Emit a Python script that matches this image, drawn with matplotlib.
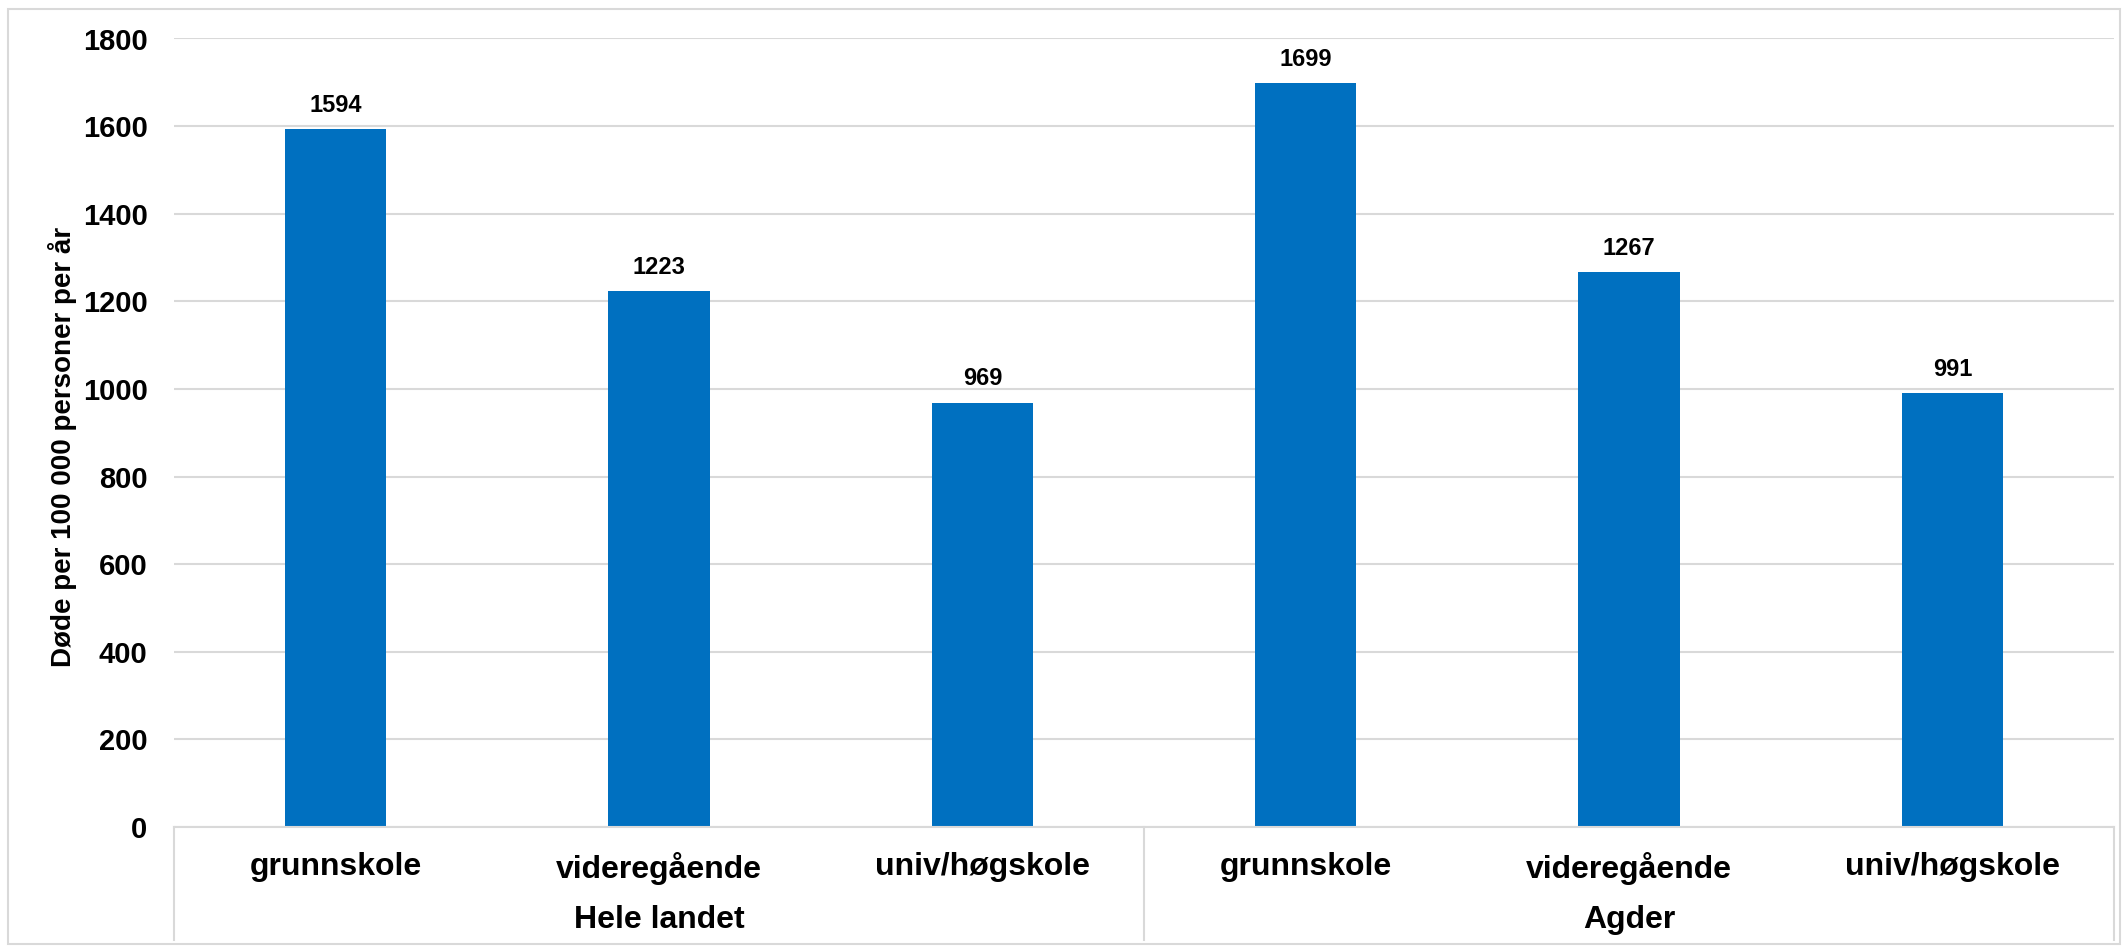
import matplotlib
matplotlib.use("Agg")
import matplotlib.pyplot as plt
from matplotlib.lines import Line2D
from matplotlib.patches import Rectangle

# data
groups = ["Hele landet", "Agder"]
levels = ["grunnskole", "videregående", "univ/høgskole"]
values_hele = [1594, 1223, 969]
values_agder = [1699, 1267, 991]
y_ticks = [0, 200, 400, 600, 800, 1000, 1200, 1400, 1600, 1800]
y_label = "Døde per 100 000 personer per år"

BAR = "#0070C0"
GRID = "#D9D9D9"

plt.rcParams["font.family"] = ["Liberation Sans", "DejaVu Sans"]
plt.rcParams["font.weight"] = "bold"

W, H = 2125, 947
fig = plt.figure(figsize=(W / 100, H / 100), dpi=100)
ax = fig.add_axes([174 / W, 1 - 827 / H, (2114 - 174) / W, (827 - 38.5) / H])

values = values_hele + values_agder
labels = levels + levels
xs = list(range(len(values)))
bars = ax.bar(xs, values, width=0.314, color=BAR, zorder=3)

for b, v in zip(bars, values):
    ax.annotate(f"{v}", (b.get_x() + b.get_width() / 2, v),
                xytext=(0, 17), textcoords="offset points",
                ha="center", va="center", fontsize=17, fontweight="bold")

ax.set_xlim(-0.5, len(values) - 0.5)
ax.set_ylim(0, 1800)
ax.set_yticks(y_ticks)
ax.tick_params(axis="y", length=0, labelsize=21, pad=19)
ax.tick_params(axis="x", length=0, labelsize=23, pad=18)
for lab in ax.get_yticklabels():
    lab.set_fontweight("bold")
ax.set_xticks(xs)
ax.set_xticklabels(labels, fontweight="bold")

ax.yaxis.grid(True, color=GRID, linewidth=1.5, zorder=0)
for s in ["top", "right", "left"]:
    ax.spines[s].set_visible(False)
ax.spines["bottom"].set_color(GRID)
ax.spines["bottom"].set_linewidth(1.5)
ax.spines["bottom"].set_zorder(4)

ax.set_ylabel(y_label, fontsize=20, fontweight="bold", va="center")
ax.yaxis.set_label_coords(-(174 - 63) / (2114 - 174), 0.482)

# second level of the category axis
depth = -(940 - 827) / (827 - 38.5)
n = len(levels)
for xb in [-0.5, n - 0.5, 2 * n - 0.5]:
    ax.add_line(Line2D([xb, xb], [0, depth], color=GRID, linewidth=1.5,
                       transform=ax.get_xaxis_transform(), clip_on=False))
for i, g in enumerate(groups):
    ax.text(i * n + (n - 1) / 2, -(920 - 827) / (827 - 38.5), g,
            transform=ax.get_xaxis_transform(), ha="center", va="center",
            fontsize=23, fontweight="bold")

# chart frame
fig.patches.append(Rectangle((8 / W, 3 / H), (2120 - 8) / W, (938 - 3) / H,
                             transform=fig.transFigure, fill=False,
                             edgecolor=GRID, linewidth=1.5))

fig.savefig("out.png", dpi=100)
